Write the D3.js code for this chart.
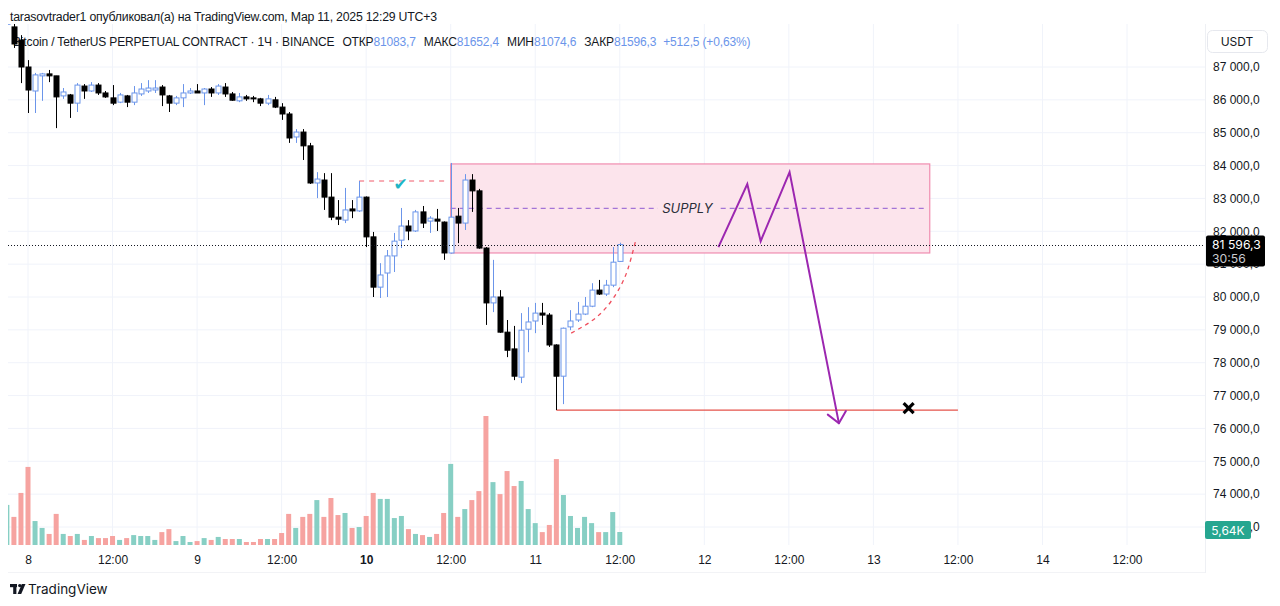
<!DOCTYPE html>
<html>
<meta charset="utf-8">
<style>
body { margin: 0; background: #fff; }
svg { font-family: Inter, "Noto Sans", sans-serif; }
.grid line { stroke: #f0f3fa; }
.axis text { fill: #131722; font-size: 12px; }
.head { font-family: "Liberation Sans", Arial, sans-serif; }
</style>
<body>
<script src="https://d3js.org/d3.v7.min.js"></script>
<script>

// hourly candles, the first one is Mar 7 21:00, the last Mar 11 12:00
var opens = [88300, 88220, 87820, 87000,
  86270, 86730, 86790, 86730, 86120, 86150, 85900, 86420, 86270, 86450,
  86210, 86060, 85930, 86120, 85930, 86180, 86270, 86300, 86390, 86120,
  85900, 86060, 86210, 86270, 86210, 86330, 86210, 86390, 86180, 85970,
  86090, 86060, 86030, 85900, 86000, 85780, 85570, 84870, 85020, 84600,
  83470, 83560, 83040, 82430, 82340, 82680, 82620, 83040, 81830, 80300,
  80730, 81250, 81730, 82160, 82010, 82590, 82310, 82370, 82280, 81340,
  82460, 82250, 83560, 83230, 81490, 79820, 80000, 78930, 78420, 77560,
  79020, 79270, 79510, 79450, 78540, 77590, 79090, 79300, 79480, 79720,
  80210, 80090, 80360, 81083.7];
var highs = [88600, 88310, 87970, 87210,
  86820, 86820, 86910, 86730, 86360, 86180, 86510, 86480, 86540, 86510,
  86270, 86450, 86210, 86150, 86420, 86510, 86600, 86600, 86450, 86150,
  86120, 86480, 86360, 86480, 86360, 86390, 86480, 86510, 86240, 86210,
  86150, 86120, 86060, 86150, 86090, 85900, 85630, 85110, 85110, 84690,
  83800, 83770, 83770, 82950, 83320, 82950, 83530, 83060, 81980, 81030,
  81430, 81950, 82710, 82340, 82650, 82770, 82460, 82680, 82300, 84080,
  82710, 83740, 83740, 83290, 81520, 81130, 80210, 79300, 79120, 79510,
  79690, 79820, 79820, 79510, 78560, 79070, 79600, 79850, 80000, 80420,
  80520, 80520, 81520, 81652.4];
var lows = [88200, 87580, 86510, 85600,
  85600, 85970, 86540, 85140, 86030, 85450, 85630, 86030, 86240, 86150,
  86060, 85840, 85900, 85780, 85840, 86120, 86210, 86210, 85810, 85630,
  85840, 85780, 86180, 86210, 85840, 86090, 86150, 86090, 85970, 85930,
  85970, 85930, 85810, 85840, 85750, 85390, 84690, 84690, 84170, 83440,
  83010, 82650, 82340, 82190, 82250, 82400, 82590, 81520, 80000, 79970,
  80000, 80760, 81490, 81730, 81980, 82100, 81950, 82010, 81130, 81320,
  81640, 82040, 82590, 81470, 79150, 79540, 78910, 78170, 77470, 77380,
  78320, 78900, 79150, 78480, 76560, 76740, 78990, 79240, 79450, 79690,
  80060, 80030, 80300, 81074.6];
var closes = [88500, 87700, 87000, 86300,
  86760, 86790, 86730, 86090, 86240, 85900, 86450, 86270, 86450, 86210,
  86090, 85900, 86150, 85930, 86210, 86330, 86360, 86360, 86150, 85900,
  86060, 86210, 86270, 86210, 86330, 86210, 86420, 86180, 85990, 86090,
  86030, 86030, 85900, 86030, 85780, 85570, 84840, 85020, 84600, 83470,
  83590, 83040, 82430, 82370, 82650, 82620, 83040, 81830, 80300, 80670,
  81250, 81700, 82160, 82010, 82590, 82250, 82400, 82310, 81340, 82430,
  82250, 83560, 83230, 81490, 79820, 80000, 78930, 78380, 77590, 78990,
  79240, 79510, 79450, 78540, 77590, 79050, 79270, 79480, 79720, 80210,
  80090, 80360, 81060, 81596.3];
// volume, thousands of BTC
var volumes = [17.4, 12.2, 22.6, 33.9,
  10.4, 7.4, 4.8, 13.5, 4.8, 3.9, 4.8, 2.2, 3.9, 3.0,
  3.0, 3.9, 2.2, 3.0, 4.3, 3.9, 3.9, 2.2, 5.6, 6.9,
  1.7, 3.9, 1.3, 1.7, 3.0, 2.2, 3.5, 2.6, 2.6, 2.6,
  1.3, 1.3, 2.6, 2.6, 2.6, 5.2, 13.5, 7.4, 12.2, 13.5,
  19.5, 12.2, 20.4, 13.0, 13.9, 7.4, 7.8, 12.6, 22.6, 20.0,
  20.0, 11.7, 12.6, 6.9, 4.8, 4.3, 3.5, 4.8, 13.9, 35.2,
  12.2, 15.6, 19.5, 23.4, 56.0, 27.3, 22.1, 32.1, 25.6, 27.8,
  15.6, 9.5, 5.6, 8.7, 37.3, 21.7, 12.6, 7.4, 12.2, 9.5,
  5.6, 5.6, 14.3, 5.64];

var priceTicks = [87000, 86000, 85000, 84000, 83000, 82000, 81000, 80000,
  79000, 78000, 77000, 76000, 75000, 74000, 73000];
var timeLabels = ["8", "12:00", "9", "12:00", "10", "12:00", "11", "12:00",
  "12", "12:00", "13", "12:00", "14", "12:00"];

// drawings, hours counted from Mar 8 00:00
var supplyHours = [60, 128], supplyPrices = [81340, 84050];
var sweepLine = [47, 59.5, 83530];
var checkMark = [52.9, 83450];
var curveHours = [77.1, 79.8, 82, 83.8, 85.1, 86.2];
var curvePrices = [78900, 79240, 79660, 80210, 80820, 81670];
var pathHours = [98.0, 102.1, 104.0, 108.1, 115.1];
var pathPrices = [81520, 83440, 81700, 83800, 76160];
var lowLine = [75, 132, 76560];
var crossMark = [125, 76620];

var W = 1280, H = 606;
var pane = {left: 8, right: 1205, top: 24, bottom: 545};

var t0 = Date.UTC(2025, 2, 8);
function hour(h) { return new Date(t0 + h * 3600e3); }
var times = opens.map(function(d, i) { return hour(i - 3); });

var x = d3.scaleUtc().domain([hour(0), hour(150)]).range([28, 28 + 150 * 7.045]);
var y = d3.scaleLinear().domain([73000, 87000]).range([527, 67]);
var vy = d3.scaleLinear().domain([0, 56]).range([pane.bottom, 416]);

var fmt = d3.formatLocale({decimal: ",", thousands: " ", grouping: [3]}).format(",.1f");
var fmtPlain = d3.formatLocale({decimal: ",", thousands: "", grouping: [3]}).format(",.1f");

var svg = d3.select("body").append("svg").attr("width", W).attr("height", H);

svg.append("clipPath").attr("id", "pane").append("rect")
  .attr("x", pane.left).attr("y", pane.top)
  .attr("width", pane.right - pane.left).attr("height", pane.bottom - pane.top);

// grid
var grid = svg.append("g").attr("class", "grid");
grid.selectAll(".h").data(priceTicks).enter().append("line")
  .attr("x1", pane.left).attr("x2", pane.right)
  .attr("y1", function(d) { return y(d); }).attr("y2", function(d) { return y(d); });
var tickDates = timeLabels.map(function(d, i) { return hour(i * 12); });
grid.selectAll(".v").data(tickDates).enter().append("line")
  .attr("x1", function(d) { return x(d); }).attr("x2", function(d) { return x(d); })
  .attr("y1", pane.top).attr("y2", pane.bottom);

svg.append("line").attr("x1", pane.right + 0.5).attr("x2", pane.right + 0.5)
  .attr("y1", 24).attr("y2", 573).attr("stroke", "#eef0f4");
svg.append("line").attr("x1", 8).attr("x2", pane.right)
  .attr("y1", 572.5).attr("y2", 572.5).attr("stroke", "#f2f3f6");

// header text
svg.append("text").attr("class", "head").attr("x", 10).attr("y", 21)
  .attr("font-size", 12.3).attr("letter-spacing", -0.22).attr("fill", "#131722")
  .text("tarasovtrader1 опубликовал(а) на TradingView.com, Мар 11, 2025 12:29 UTC+3");

var legend = svg.append("text").attr("class", "head").attr("x", 13).attr("y", 46)
  .attr("font-size", 12).attr("letter-spacing", -0.15).attr("fill", "#131722");
var blue = "#6b95ea";
var parts = [
  ["Bitcoin / TetherUS PERPETUAL CONTRACT · 1Ч · BINANCE", "#131722", 0],
  ["ОТКР", "#131722", 8], [fmtPlain(opens[87]), blue, 0],
  ["МАКС", "#131722", 8], [fmtPlain(highs[87]), blue, 0],
  ["МИН", "#131722", 8], [fmtPlain(lows[87]), blue, 0],
  ["ЗАКР", "#131722", 8], [fmtPlain(closes[87]), blue, 0],
  ["+512,5 (+0,63%)", blue, 7]
];
parts.forEach(function(p) {
  legend.append("tspan").attr("dx", p[2]).attr("fill", p[1]).text(p[0]);
});

var plot = svg.append("g").attr("clip-path", "url(#pane)");

// volume
var bw = 5;
plot.selectAll(".vol").data(volumes).enter().append("rect")
  .attr("x", function(d, i) { return x(times[i]) - bw / 2; })
  .attr("y", function(d) { return vy(d); })
  .attr("width", bw)
  .attr("height", function(d) { return pane.bottom - vy(d); })
  .attr("fill", function(d, i) { return closes[i] >= opens[i] ? "#87cfc4" : "#f6a3a0"; });

// supply zone
plot.append("rect")
  .attr("x", x(hour(supplyHours[0]))).attr("y", y(supplyPrices[1]))
  .attr("width", x(hour(supplyHours[1])) - x(hour(supplyHours[0])))
  .attr("height", y(supplyPrices[0]) - y(supplyPrices[1]))
  .attr("fill", "#fce4ec").attr("stroke", "#f08db0").attr("stroke-width", 1.2);
var mid = (supplyPrices[0] + supplyPrices[1]) / 2;
plot.append("line")
  .attr("x1", x(hour(supplyHours[0]))).attr("x2", x(hour(supplyHours[1])) - 4)
  .attr("y1", y(mid)).attr("y2", y(mid))
  .attr("stroke", "#a474d6").attr("stroke-width", 1.2).attr("stroke-dasharray", "5,4");
var lab = plot.append("g");
lab.append("rect").attr("x", x(hour(93.6)) - 30).attr("y", y(mid) - 8).attr("width", 60).attr("height", 16)
  .attr("fill", "#fce4ec");
lab.append("text").attr("x", x(hour(93.6))).attr("y", y(mid) + 5)
  .attr("text-anchor", "middle").attr("font-size", 13).attr("font-style", "italic")
  .attr("fill", "#2a2e39").text("SUPPLY");

// sweep line and check
plot.append("line")
  .attr("x1", x(hour(sweepLine[0]))).attr("x2", x(hour(sweepLine[1])))
  .attr("y1", y(sweepLine[2])).attr("y2", y(sweepLine[2]))
  .attr("stroke", "#ef5b6b").attr("stroke-width", 1).attr("stroke-dasharray", "5,5");
plot.append("text").attr("x", x(hour(checkMark[0]))).attr("y", y(checkMark[1]) + 6)
  .attr("text-anchor", "middle").attr("font-size", 17).attr("font-family", "DejaVu Sans")
  .attr("fill", "#1fb5c5").text("✔");

// low line
plot.append("line")
  .attr("x1", x(hour(lowLine[0]))).attr("x2", x(hour(lowLine[1])))
  .attr("y1", y(lowLine[2])).attr("y2", y(lowLine[2]))
  .attr("stroke", "#e5534b").attr("stroke-width", 1.2);

// candles
var candle = plot.selectAll(".c").data(opens).enter().append("g");
candle.append("line")
  .attr("x1", function(d, i) { return Math.round(x(times[i])) + 0.5; })
  .attr("x2", function(d, i) { return Math.round(x(times[i])) + 0.5; })
  .attr("y1", function(d, i) { return y(highs[i]); })
  .attr("y2", function(d, i) { return y(lows[i]); })
  .attr("stroke", function(d, i) { return closes[i] >= opens[i] ? blue : "#000"; });
candle.append("rect")
  .attr("x", function(d, i) { return Math.round(x(times[i])) - 2; })
  .attr("y", function(d, i) { return y(Math.max(opens[i], closes[i])); })
  .attr("width", 5)
  .attr("height", function(d, i) { return Math.max(1, Math.abs(y(opens[i]) - y(closes[i]))); })
  .attr("fill", function(d, i) { return closes[i] >= opens[i] ? "#fff" : "#000"; })
  .attr("stroke", function(d, i) { return closes[i] >= opens[i] ? blue : "#000"; })
  .attr("stroke-width", 1);

// rounded bottom curve
var curveLine = d3.line().curve(d3.curveNatural)
  .x(function(d, i) { return x(hour(d)); })
  .y(function(d, i) { return y(curvePrices[i]); });
plot.append("path").attr("d", curveLine(curveHours))
  .attr("fill", "none").attr("stroke", "#ef4d5c").attr("stroke-width", 1.3).attr("stroke-dasharray", "4,4");

// projected path
var pathLine = d3.line()
  .x(function(d) { return x(hour(d)); })
  .y(function(d, i) { return y(pathPrices[i]); });
plot.append("path").attr("d", pathLine(pathHours))
  .attr("fill", "none").attr("stroke", "#9c27b0").attr("stroke-width", 2).attr("stroke-linejoin", "miter");
var n = pathHours.length;
var tip = [x(hour(pathHours[n - 1])), y(pathPrices[n - 1])];
var prev = [x(hour(pathHours[n - 2])), y(pathPrices[n - 2])];
var ang = Math.atan2(prev[1] - tip[1], prev[0] - tip[0]);
[-0.72, 0.72].forEach(function(a) {
  plot.append("line").attr("x1", tip[0]).attr("y1", tip[1])
    .attr("x2", tip[0] + 14 * Math.cos(ang + a)).attr("y2", tip[1] + 14 * Math.sin(ang + a))
    .attr("stroke", "#9c27b0").attr("stroke-width", 2).attr("stroke-linecap", "round");
});

// cross
var cx = x(hour(crossMark[0])), cy = y(crossMark[1]);
[[-5, -5, 5, 5], [-5, 5, 5, -5]].forEach(function(s) {
  plot.append("line").attr("x1", cx + s[0]).attr("y1", cy + s[1]).attr("x2", cx + s[2]).attr("y2", cy + s[3])
    .attr("stroke", "#000").attr("stroke-width", 3.2);
});

// last price line
plot.append("line").attr("x1", pane.left).attr("x2", pane.right)
  .attr("y1", Math.round(y(closes[87])) + 0.5).attr("y2", Math.round(y(closes[87])) + 0.5)
  .attr("stroke", "#131722").attr("stroke-dasharray", "1,2");

// price axis
var yAxis = svg.append("g").attr("class", "axis").attr("transform", "translate(" + pane.right + ",0)")
  .call(d3.axisRight(y).tickValues(priceTicks).tickSize(0).tickPadding(8).tickFormat(fmt));
yAxis.select(".domain").remove();
yAxis.selectAll("text").attr("font-family", null).attr("font-size", 12.4);

// time axis
var xAxis = svg.append("g").attr("class", "axis").attr("transform", "translate(0," + pane.bottom + ")")
  .call(d3.axisBottom(x).tickValues(tickDates).tickSize(0).tickPadding(10)
    .tickFormat(function(d, i) { return timeLabels[i]; }));
xAxis.select(".domain").remove();
xAxis.selectAll("text").attr("font-weight", function(d, i) { return timeLabels[i] === "10" ? "bold" : null; });

// USDT box
svg.append("rect").attr("x", 1207.5).attr("y", 30.5).attr("width", 60).attr("height", 22).attr("rx", 5)
  .attr("fill", "#fff").attr("stroke", "#e6e8ee");
svg.append("text").attr("x", 1237).attr("y", 46).attr("text-anchor", "middle")
  .attr("font-size", 12).attr("fill", "#131722").text("USDT");

// last price label
var ly = y(closes[87]);
svg.append("rect").attr("x", 1206).attr("y", ly - 9).attr("width", 59).attr("height", 31).attr("rx", 2).attr("fill", "#000");
svg.append("text").attr("x", 1212).attr("y", ly + 4).attr("font-size", 12.2).attr("fill", "#fff").text(fmt(closes[87]));
svg.append("text").attr("x", 1212).attr("y", ly + 18).attr("font-size", 12.2).attr("fill", "#c8cad0").text("30:56");

// last volume label
var vv = volumes[volumes.length - 1];
svg.append("rect").attr("x", 1205).attr("y", 521).attr("width", 46).attr("height", 18).attr("rx", 2).attr("fill", "#26a690");
svg.append("text").attr("x", 1228).attr("y", 534.5).attr("text-anchor", "middle").attr("font-size", 12)
  .attr("fill", "#fff").text(String(vv).replace(".", ",") + "K");

// TradingView logo
var logo = svg.append("g").attr("fill", "#131722");
logo.append("rect").attr("x", 10).attr("y", 584).attr("width", 7).attr("height", 3.2);
logo.append("rect").attr("x", 13.2).attr("y", 584).attr("width", 3.2).attr("height", 10);
logo.append("circle").attr("cx", 19.8).attr("cy", 585.6).attr("r", 1.7);
logo.append("path").attr("d", "M21.8,584 L25.5,584 L21.2,594 L17.6,594 Z");
svg.append("text").attr("x", 28).attr("y", 594).attr("font-size", 13.5).attr("fill", "#131722").text("TradingView");

</script>
</body>
</html>
